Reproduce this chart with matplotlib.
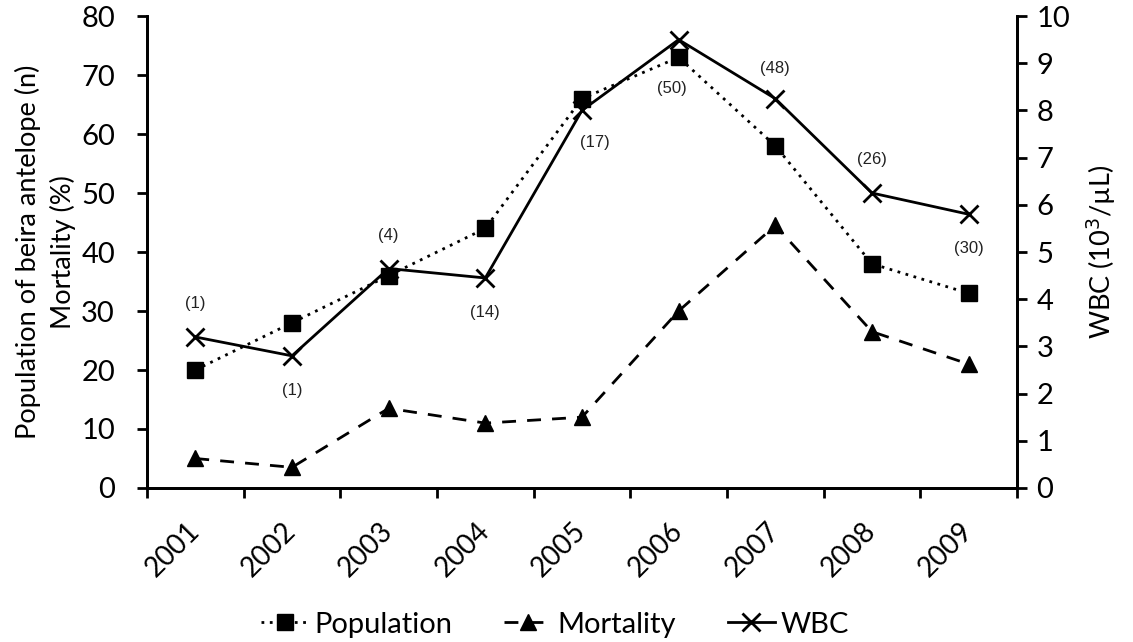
import numpy as np
import matplotlib
matplotlib.use("Agg")
import matplotlib.pyplot as plt
from matplotlib.ticker import FixedLocator
from matplotlib.transforms import ScaledTranslation

# data
years = ["2001", "2002", "2003", "2004", "2005", "2006", "2007", "2008", "2009"]
population = [20, 28, 36, 44, 66, 73, 58, 38, 33]
mortality = [5, 3.5, 13.5, 11, 12, 30, 44.5, 26.5, 21]
wbc = [3.2, 2.8, 4.65, 4.45, 8.0, 9.5, 8.25, 6.25, 5.8]
sample_n = ["(1)", "(1)", "(4)", "(14)", "(17)", "(50)", "(48)", "(26)", "(30)"]
# where each (n) label sits relative to its WBC point, in points
label_offsets = [(0, 24), (0, -25), (0, 24), (0, -25), (9, -23), (-5, -35), (0, 22), (0, 24), (0, -25)]

plt.rcParams['font.family'] = ['Lato', 'DejaVu Sans']

fig = plt.figure(figsize=(11.33, 6.42), dpi=100)
ax = fig.add_axes([0.1297, 0.2399, 0.7679, 0.7351])
ax2 = ax.twinx()

x = np.arange(len(years))

l1, = ax.plot(x, population, color="black", linestyle=(0, (1, 2)), linewidth=2,
              marker="s", markersize=11, label="Population")
l2, = ax.plot(x, mortality, color="black", linestyle=(0, (5, 4)), linewidth=2,
              marker="^", markersize=12, label="Mortality")
l3, = ax2.plot(x, wbc, color="black", linestyle="-", linewidth=2,
               marker="x", markersize=13, markeredgewidth=2, label="WBC")

for xi, yi, txt, off in zip(x, wbc, sample_n, label_offsets):
    ax2.annotate(txt, (xi, yi), xytext=off, textcoords="offset points",
                 ha="center", va="center", fontsize=12,
                 family=["Liberation Sans", "DejaVu Sans"], color="#222222")

ax.set_xlim(-0.5, len(years) - 0.5)
ax.set_ylim(0, 80)
ax2.set_ylim(0, 10)
ax.set_yticks(np.arange(0, 81, 10))
ax2.set_yticks(np.arange(0, 11, 1))

ax.set_xticks(x)
ax.set_xticklabels(years, rotation=45, ha="right", va="center",
                   rotation_mode="anchor", fontsize=20)
shift = ScaledTranslation(7 / 100, 0, fig.dpi_scale_trans)
for lab in ax.get_xticklabels():
    lab.set_transform(lab.get_transform() + shift)
ax.xaxis.set_minor_locator(FixedLocator(np.arange(-0.5, len(years), 1)))
ax.tick_params(axis="x", which="major", length=0, pad=28)
ax.tick_params(axis="x", which="minor", length=7, width=2, direction="out")
ax.tick_params(axis="y", length=7, width=2, direction="out", labelsize=21, pad=16)
ax2.tick_params(axis="y", length=7, width=2, direction="out", labelsize=21, pad=7)

for a in (ax, ax2):
    a.spines["top"].set_visible(False)
    for s in ("left", "right", "bottom"):
        a.spines[s].set_linewidth(2)

ax.set_ylabel("Population of beira antelope (n)\nMortality (%)", fontsize=19.5, labelpad=4,
              linespacing=1.4)
ax2.set_ylabel("WBC (10$^3$/\u00b5L)", fontsize=19.5, labelpad=10)

fig.legend(handles=[l1, l2, l3], loc="center", bbox_to_anchor=(0.49, 0.027),
           ncol=3, frameon=False, fontsize=21, handlelength=1.6, handletextpad=0.2,
           columnspacing=1.8)

fig.savefig("out.png", dpi=100)
